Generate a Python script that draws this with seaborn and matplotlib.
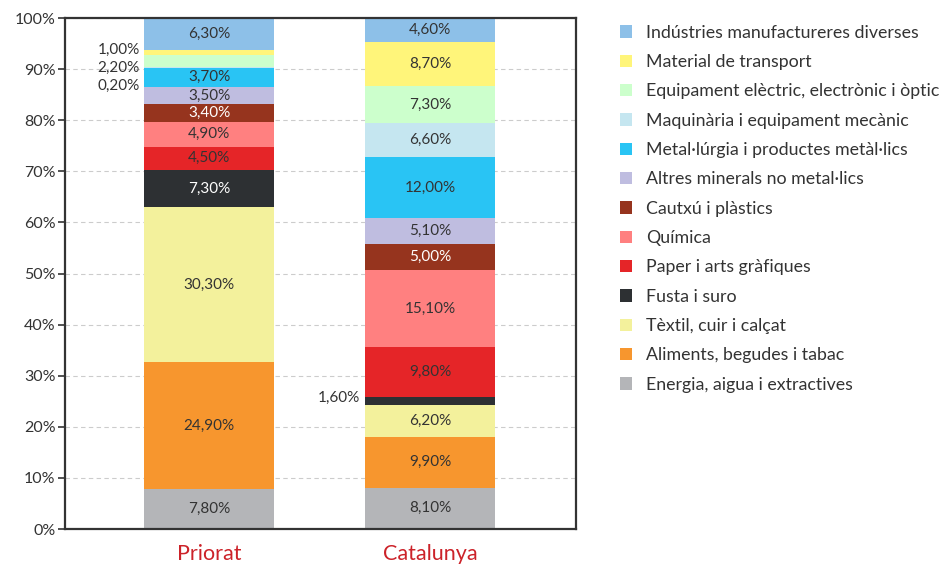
import matplotlib
matplotlib.use("Agg")
import matplotlib.pyplot as plt
import seaborn as sns
import numpy as np
from matplotlib.patches import Patch

# sectors listed bottom-to-top of the stack
sectors = [
    "Energia, aigua i extractives",
    "Aliments, begudes i tabac",
    "Tèxtil, cuir i calçat",
    "Fusta i suro",
    "Paper i arts gràfiques",
    "Química",
    "Cautxú i plàstics",
    "Altres minerals no metal·lics",
    "Metal·lúrgia i productes metàl·lics",
    "Maquinària i equipament mecànic",
    "Equipament elèctric, electrònic i òptic",
    "Material de transport",
    "Indústries manufactureres diverses",
]
regions = ["Priorat", "Catalunya"]
priorat = [7.8, 24.9, 30.3, 7.3, 4.5, 4.9, 3.4, 3.5, 3.7, 0.2, 2.2, 1.0, 6.3]
catalunya = [8.1, 9.9, 6.2, 1.6, 9.8, 15.1, 5.0, 5.1, 12.0, 6.6, 7.3, 8.7, 4.6]
colors = [
    "#b4b5b8", "#f7962e", "#f3f19c", "#2d3033", "#e52528", "#ff8080",
    "#96341e", "#bfbde0", "#29c4f4", "#c5e6f0", "#ccffcc", "#fff57a",
    "#8dc0e8",
]
white_text = {"Fusta i suro", "Cautxú i plàstics"}

sns.set_theme(style="white")
plt.rcParams["font.family"] = ["Lato", "DejaVu Sans"]

fig = plt.figure(figsize=(9.43, 5.64), dpi=100)
ax = fig.add_axes([0.069, 0.062, 0.5418, 0.906])

data = np.array([priorat, catalunya])  # shape (2, 13)
cum = data.cumsum(axis=1)
bar_w = 0.59

# stacked bars: draw cumulative totals from the top layer down
for i in range(len(sectors) - 1, -1, -1):
    sns.barplot(x=regions, y=cum[:, i], color=colors[i], width=bar_w,
                saturation=1, linewidth=0, errorbar=None, ax=ax, zorder=2)

txt = "#333333"
for j, reg in enumerate(regions):
    vals = data[j]
    tops = cum[j]
    outside = []
    for i, v in enumerate(vals):
        mid = tops[i] - v / 2
        label = f"{v:.2f}".replace(".", ",") + "%"
        if v < 3:
            outside.append((mid, label))
            continue
        c = "white" if sectors[i] in white_text else txt
        ax.text(j, mid, label, ha="center", va="center", fontsize=11, color=c, zorder=3)
    # small segments labelled to the left, spread apart
    outside.sort(key=lambda t: -t[0])
    prev = None
    for mid, label in outside:
        y = mid + 0.6 if prev is None else min(mid, prev - 3.5)
        prev = y
        ax.text(j - bar_w / 2 - 0.02, y, label, ha="right", va="center",
                fontsize=11, color=txt, zorder=3)

ax.set_xlim(-0.652, 1.66)
ax.set_ylim(0, 100)
ax.set_yticks(range(0, 101, 10))
ax.set_yticklabels([f"{t}%" for t in range(0, 101, 10)], fontsize=11.5, color=txt)
ax.tick_params(axis="y", left=True, length=5, width=1.2, color="#333333", pad=2)
ax.tick_params(axis="x", bottom=False, pad=5)
for lab in ax.get_xticklabels():
    lab.set_color("#cc2229")
    lab.set_fontsize(15.5)
ax.set_xlabel("")
ax.set_ylabel("")
ax.yaxis.grid(True, linestyle=(0, (4, 3)), color="#cccccc", linewidth=0.8, zorder=0)
ax.set_axisbelow(True)
for s in ax.spines.values():
    s.set_color("#333333")
    s.set_linewidth(1.6)

handles = [Patch(facecolor=c, edgecolor="none") for c in colors[::-1]]
fig.legend(handles, sectors[::-1], loc="upper left", bbox_to_anchor=(0.648, 0.972),
           frameon=False, fontsize=12.8, labelspacing=0.75, handlelength=0.7,
           handleheight=0.7, handletextpad=0.75, borderpad=0, labelcolor="#333333")

fig.savefig("out.png", dpi=100)
